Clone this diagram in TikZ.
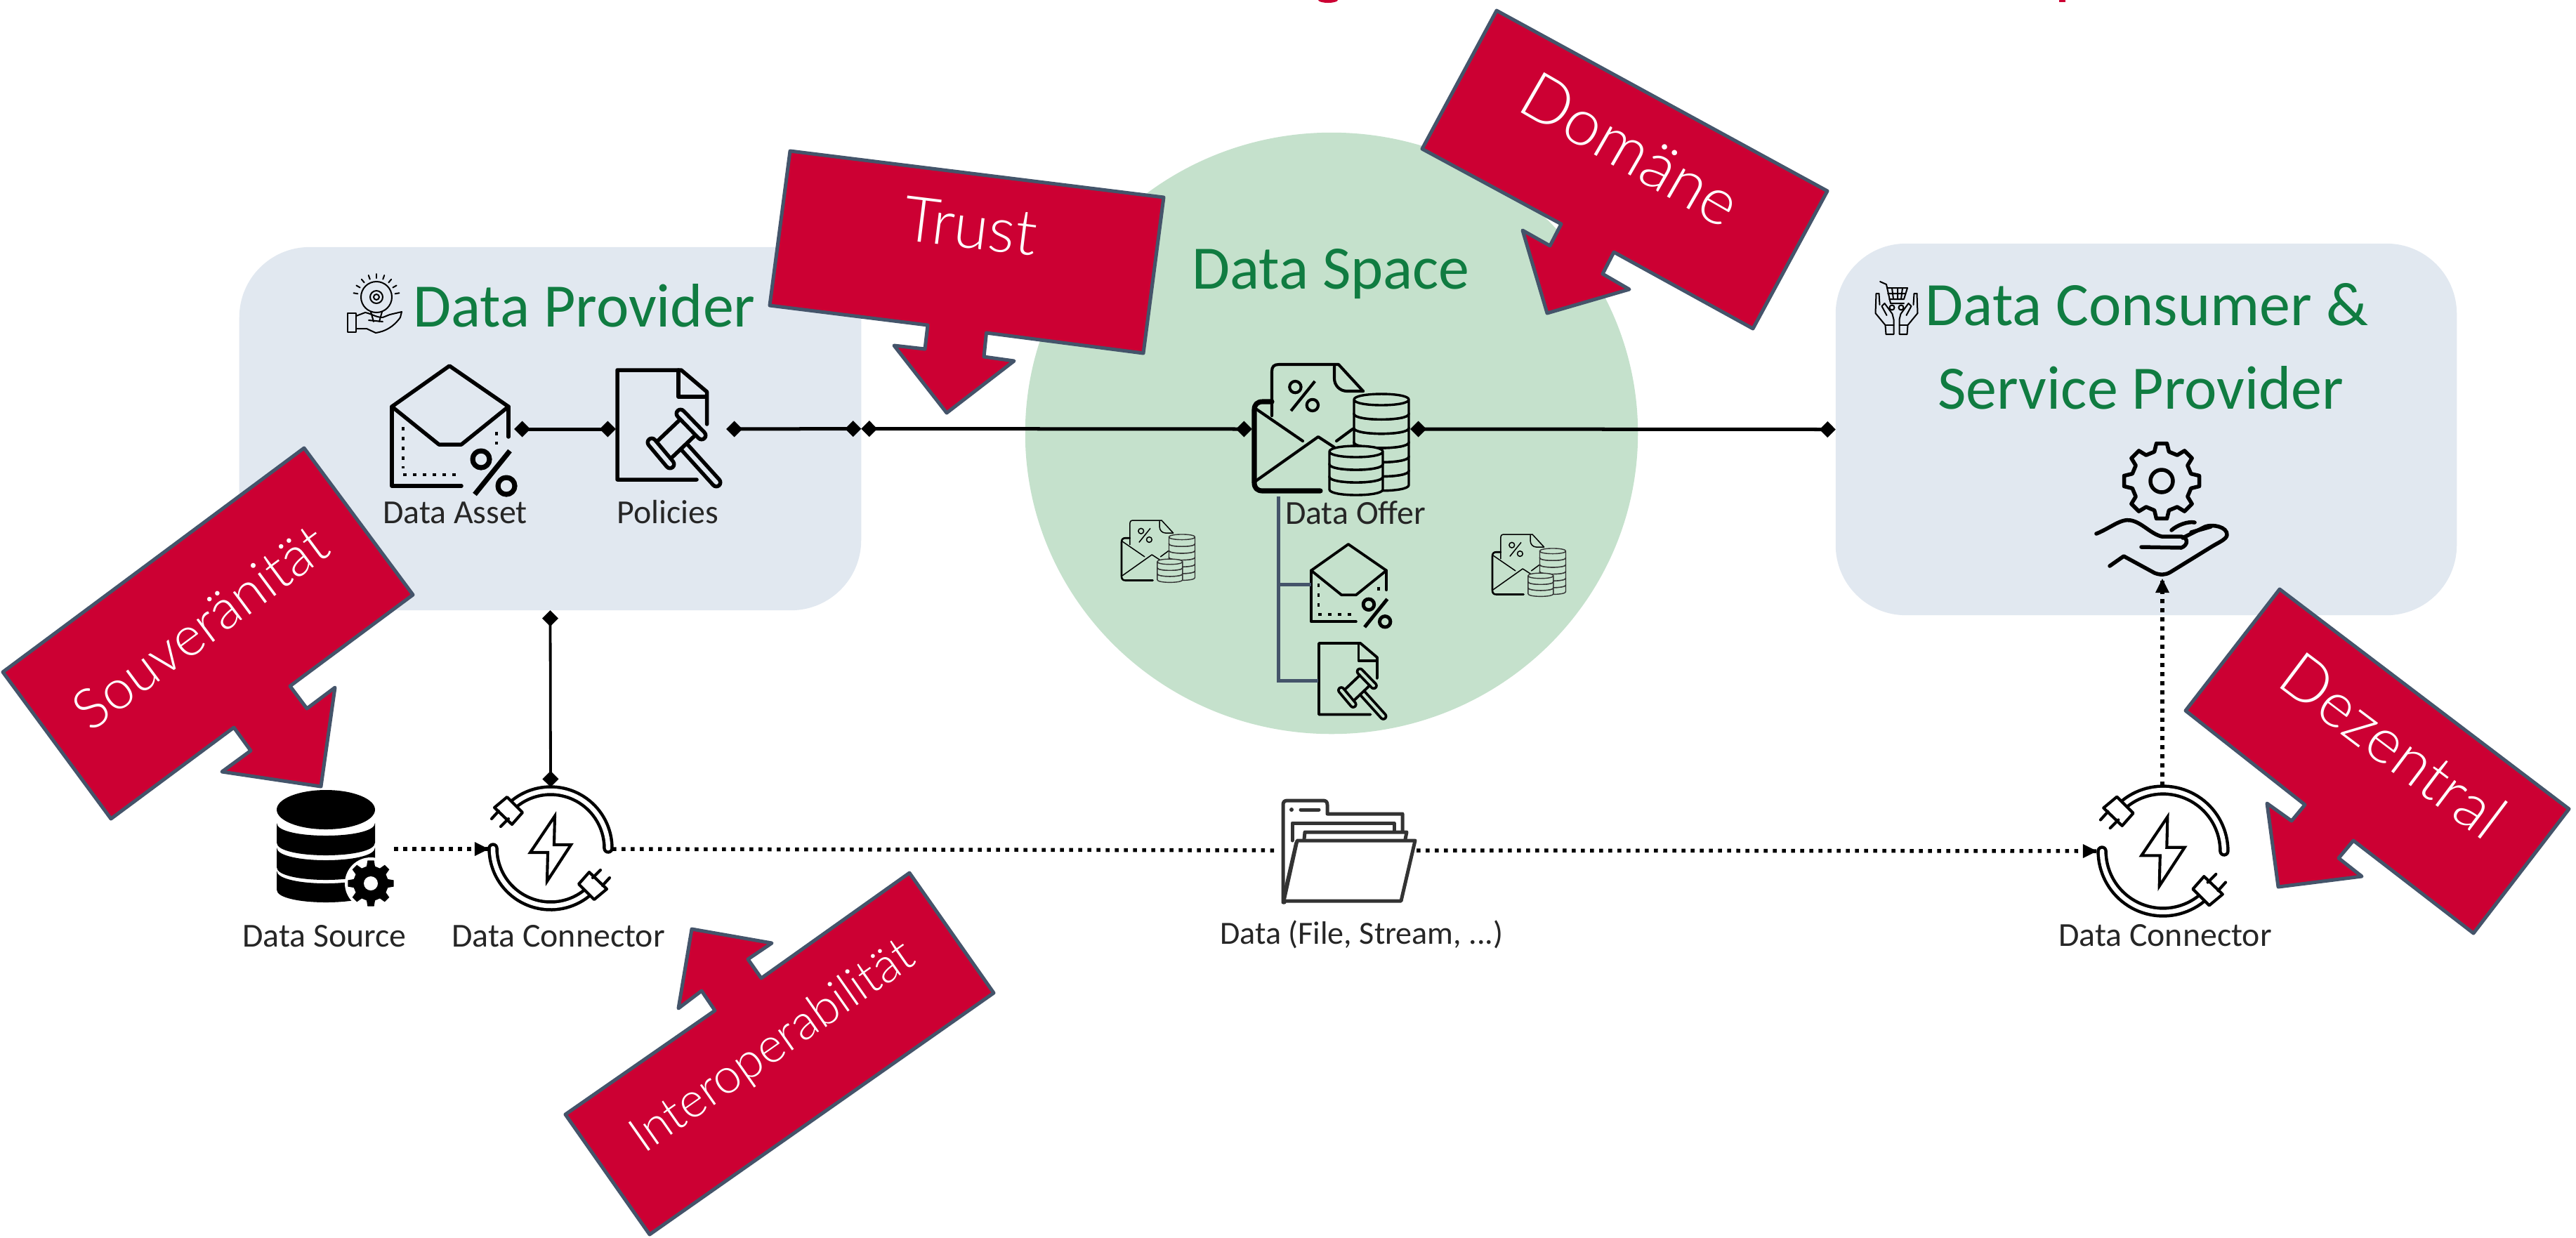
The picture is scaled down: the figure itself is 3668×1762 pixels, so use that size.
\documentclass[tikz,border=0pt]{standalone}
\usepackage{fontspec}
\setmainfont{Carlito}
\newfontfamily\lightf{Lato Light}
\usetikzlibrary{arrows.meta,shapes.geometric}
\definecolor{crimsonred}{HTML}{CC0033}
\definecolor{slateline}{HTML}{44546A}
\definecolor{boxblue}{HTML}{E1E8F0}
\definecolor{spacegreen}{HTML}{C5E1CC}
\definecolor{headgreen}{HTML}{107C41}
\colorlet{ibg}{boxblue}
\newcommand\icolw{0.055cm}
\newcommand\icodd{0.06cm}
\newcommand\coinstack[6]{% cx top n h rx ry
  \foreach \i in {#3,...,1}{%
    \pgfmathsetmacro\ct{#2+(\i-1)*#4}%
    \pgfmathsetmacro\cb{\ct+#4}%
    \pgfmathsetmacro\cl{#1-#5}%
    \pgfmathsetmacro\cr{#1+#5}%
    \pgfmathsetmacro\ctu{\ct-1.33*#6}%
    \pgfmathsetmacro\ctd{\ct+1.33*#6}%
    \pgfmathsetmacro\cbd{\cb+1.33*#6}%
    \draw[coinline] (\cl,\ct) -- (\cl,\cb) .. controls (\cl,\cbd) and (\cr,\cbd) .. (\cr,\cb) -- (\cr,\ct) .. controls (\cr,\ctu) and (\cl,\ctu) .. (\cl,\ct) .. controls (\cl,\ctd) and (\cr,\ctd) .. (\cr,\ct);
  }}
\newcommand\pctmark[3]{% cx,cy ; scale ; stroke factor
  \begin{scope}[shift={#1},scale=#2]
    \draw[ico,line width=#3*\icolw,line cap=butt] (21,-31) -- (-29,31);
    \draw[ico,line width=#3*\icolw] (-20,-19) circle[radius=12];
    \draw[ico,line width=#3*\icolw] (16,19) circle[radius=12];
  \end{scope}}
\newcommand\gearp[2]{(-14:#2) \foreach \k in {0,...,7}{ -- ({\k*45-14}:#2) -- ({\k*45-8}:#1) -- ({\k*45+8}:#1) -- ({\k*45+14}:#2) } -- cycle}
\tikzset{
  ico/.style={line width=\icolw,draw=black,line cap=round,line join=round},
  icothin/.style={ico,line width=0.75*\icolw},
  dotty/.style={line width=0.9*\icolw,draw=black,dash pattern=on 0.05cm off 0.09cm},
  gavelbar/.style={draw=black,line width=\icolw,double=ibg,double distance=\icodd,line cap=round},
  coinline/.style={line width=0.034cm,draw=black,fill=ibg,line join=round},
  tube/.style={draw=black,line width=0.045cm,double=white,double distance=0.065cm,line cap=round},
  redarrow/.style={fill=crimsonred,draw=slateline,line width=0.05cm,line join=round},
  redlabel/.style={text=white,font=\lightf,inner sep=0pt},
  headlabel/.style={text=headgreen,font=\fontsize{25}{25}\selectfont,anchor=base,inner sep=0pt},
  smalllabel/.style={text=black!85,font=\fontsize{13.6}{13.6}\selectfont,anchor=base,inner sep=0pt},
  slot/.style={inner sep=0pt,outer sep=0pt,minimum height=0pt,minimum width=#1},
  squareslot/.style={inner sep=0pt,outer sep=0pt,minimum size=#1},
  softbox/.style={fill=boxblue,rounded corners=1cm,inner sep=0pt,outer sep=0pt},
  solidlink/.style={line width=0.05cm,draw=black,{Diamond[length=0.23cm,width=0.23cm]}-{Diamond[length=0.23cm,width=0.23cm]}},
  dotlink/.style={line width=0.055cm,draw=black,dash pattern=on 0.055cm off 0.075cm},
  treeline/.style={line width=0.05cm,draw=slateline},
  pics/assetico/.style={code={
    \draw[ico] (82,0) -- (166,58) -- (99,112) -- (67,112) -- (0,58) -- cycle;
    \draw[ico] (0,58) -- (0,171) -- (99,171);
    \draw[ico] (166,58) -- (166,101);
    \draw[dotty] (16,87) -- (16,146);
    \draw[dotty] (16,155) -- (96,155);
    \draw[dotty] (149,94) -- (149,112);
    \pctmark{(147,152)}{1}{1.3}
  }},
  pics/policyico/.style={code={
    \draw[ico] (113,156) -- (0,156) -- (0,0) -- (91,0) -- (127.6,31) -- (127.6,77);
    \draw[ico] (87,0) -- (87,38) -- (127,38);
    \draw[gavelbar] (94.5,108.5) -- (141,160);
    \draw[ico,fill=ibg] (94,66) -- (116,88) -- (73,129) -- (51,107) -- cycle;
    \draw[gavelbar] (90,62) -- (120,93);
    \draw[gavelbar] (49,103) -- (75,134);
  }},
  pics/offerico/.style={code={
    \draw[icothin] (25,73) -- (25,10) .. controls (25,3) and (28,0) .. (35,0) -- (120,0) -- (155,38);
    \draw[icothin] (114,3) -- (114,20) .. controls (114,30) and (122,38) .. (132,38) -- (155,38);
    \draw[ico,line width=1.3*\icolw] (25,53) -- (12,53) .. controls (4,53) and (0,57) .. (0,65) -- (0,168) .. controls (0,176) and (4,180) .. (12,180) -- (94,180);
    \draw[icothin] (2,63) -- (69,109);
    \draw[icothin] (2,166) -- (91,103) -- (114,118);
    \draw[icothin] (117,109) -- (140,92);
    \pctmark{(72,45)}{0.68}{0.75}
    \coinstack{181}{50}{6}{20.3}{39}{8}
    \coinstack{145}{124}{3}{18}{38}{8}
  }},
  pics/connectorico/.style={code={
    \draw[tube] plot[domain=0:-132,samples=40] ({82*cos(\x)},{82*sin(\x)});
    \draw[tube] plot[domain=180:48,samples=40] ({82*cos(\x)},{82*sin(\x)});
    \draw[icothin,fill=white] (-62,-73) -- (-80,-58) -- (-55,-34) -- (-40,-51) -- cycle;
    \draw[icothin] (-74,-53) -- (-84,-42);
    \draw[icothin] (-60,-42) -- (-71,-31);
    \draw[icothin,fill=white] (62,73) -- (80,58) -- (55,34) -- (40,51) -- cycle;
    \draw[icothin] (74,53) -- (84,42);
    \draw[icothin] (60,42) -- (71,31);
    \draw[icothin,line join=miter] (6,-46) -- (-29,6) -- (-4,6) -- (-5,47) -- (29,-5) -- (5,-5) -- cycle;
  }}
}
\begin{document}
\begin{tikzpicture}[x=0.01cm,y=-0.01cm]
\useasboundingbox (0,0) rectangle (3668,1762);
\fill[white] (0,0) rectangle (3668,1762);
% clipped heading remnants
\fill[crimsonred] (1891,0) ellipse[x radius=14,y radius=4];
\fill[crimsonred] (2932,0) rectangle (2941,3);

% containers
\node[softbox,minimum width=8.85cm,minimum height=5.17cm] (provider) at (783.5,610.5) {};
\node[softbox,minimum width=8.84cm,minimum height=5.29cm] (consumer) at (3056,611.5) {};
\node[ellipse,fill=spacegreen,inner sep=0pt,outer sep=0pt,minimum width=8.72cm,minimum height=8.56cm] (dataspace) at (1896,617) {};

% headings
\node[headlabel] (lprovider) at (832,465) {Data Provider};
\node[headlabel] (lspace) at (1895,411) {Data Space};
\node[headlabel] (lconsumer) at (3057,463) {Data Consumer \&};
\node[headlabel] (lservice) at (3048,582) {Service Provider};

% provider header icon
\begin{scope}[line width=0.02cm,line cap=round,line join=round]
  \draw (536,423) circle[radius=22];
  \draw (536,423) circle[radius=9];
  \draw (536,423) circle[radius=4];
  \foreach \a in {-170,-150,...,-10}{\draw ({536+27*cos(\a)},{423+27*sin(\a)}) -- ({536+33*cos(\a)},{423+33*sin(\a)});}
  \draw (528,444) -- (532,458) (544,444) -- (540,458);
  \draw (495,446) rectangle (507,473);
  \draw (507,450) -- (520,445) .. controls (530,447) and (535,452) .. (545,452) -- (555,448) -- (572,444) -- (570,452) .. controls (560,466) and (548,472) .. (535,474) -- (522,468) -- (507,468);
  \draw (525,456) -- (545,458);
\end{scope}
% consumer header icon
\begin{scope}[line width=0.02cm,line cap=round,line join=round]
  \draw (2677,401) -- (2686,405) -- (2692,432) -- (2711,432);
  \draw (2687,410) -- (2716,410) -- (2711,426) -- (2690,426);
  \draw (2694,410) -- (2696,426) (2702,410) -- (2702,426) (2709,410) -- (2707,426) (2688,418) -- (2713,418);
  \draw (2694,438) circle[radius=3.5] (2707,438) circle[radius=3.5];
  \foreach \s/\c in {1/2700.5,-1/2700.5}{
    \begin{scope}[shift={(\c,0)},xscale=\s]
      \draw (-29,418) -- (-30,446) -- (-16,463) -- (-15,476) -- (-4,476) -- (-4,455) -- (-6,447) -- (-17,432) -- (-21,436) -- (-14,449);
      \draw (-29,418) -- (-25,418) -- (-24,434);
      \draw (-15,463) -- (-4,463);
    \end{scope}}
\end{scope}

% slots that carry the connector ends
\node[slot=1.74cm] (asset) at (645,611) {};
\node[slot=1.57cm] (policies) at (955.5,611) {};
\node[slot=2.25cm] (offer) at (1895.5,611) {};
\node[slot=1.67cm] (source) at (477.5,1209) {};
\node[squareslot=1.76cm] (connectorA) at (784,1209) {};
\node[squareslot=1.86cm] (connectorB) at (3079,1212) {};
\node[slot=1.99cm] (folder) at (1917.5,1211) {};
\node[inner sep=0pt,outer sep=0pt,minimum width=3cm,minimum height=4.31cm] (service) at (3079,608.5) {};
\node[slot=1.2cm] (assetB) at (1927,832) {};
\node[slot=1cm] (policyB) at (1927.5,969) {};
\coordinate (treetop) at (1820,707);

% icons in the provider box
\pic at (558,521) {assetico};
\pic at (879,527) {policyico};

% icons in the data space
\begin{scope}
  \colorlet{ibg}{spacegreen}
  \pic at (1786,519) {offerico};
  \begin{scope}
    \renewcommand\icolw{0.038cm}\renewcommand\icodd{0.04cm}
    \pic[scale=0.645] at (1867,775) {assetico};
    \pic[scale=0.65] at (1878,916) {policyico};
  \end{scope}
  \begin{scope}
    \renewcommand\icolw{0.02cm}
    \tikzset{coinline/.style={line width=0.014cm,draw=black!80,fill=ibg}}
    \pic[scale=0.475] at (1597,741) {offerico};
    \pic[scale=0.475] at (2125,761) {offerico};
  \end{scope}
\end{scope}

% service hand
\begin{scope}[shift={(3078,685)}]
  \draw[ico] \gearp{54}{43};
  \draw[ico] (0,0) circle[radius=16];
\end{scope}
\draw[ico] (2985,760) .. controls (3005,752) and (3020,738) .. (3034,741) .. controls (3050,744) and (3062,760) .. (3078,764) -- (3106,764) .. controls (3116,766) and (3116,776) .. (3106,780) -- (3049,779);
\draw[ico] (3108,766) -- (3140,750) .. controls (3150,746) and (3172,750) .. (3171,762) .. controls (3170,768) and (3160,772) .. (3150,778) -- (3090,815) .. controls (3083,819) and (3076,819) .. (3068,816) -- (3024,792) -- (3004,806);
\draw[ico] (3092,755) .. controls (3100,748) and (3115,742) .. (3125,744) (3120,758) -- (3148,750);

% data source
\fill[black] (464,1153) ellipse[x radius=70,y radius=28];
\foreach \ya/\yb in {1172/1200,1207/1235,1240/1267}{
  \fill[black] (394,\ya) .. controls (394,\ya+24) and (534,\ya+24) .. (534,\ya) -- (534,\yb) .. controls (534,\yb+24) and (394,\yb+24) .. (394,\yb) -- cycle;
}
\begin{scope}[shift={(528,1258)}]
  \fill[white] (0,0) circle[radius=37];
  \fill[black] \gearp{33}{25};
  \fill[white] (0,0) circle[radius=10];
\end{scope}

% connectors icons
\pic at (784,1208) {connectorico};
\pic[scale=1.06] at (3080,1212) {connectorico};

% folder
\begin{scope}[line width=0.05cm,line join=round,line cap=round]
  \draw[black!80] (1829,1285) -- (1827,1285) -- (1827,1146) .. controls (1827,1142) and (1829,1140) .. (1833,1140) -- (1884,1140) .. controls (1888,1140) and (1890,1142) .. (1890,1146) -- (1890,1159) -- (1997,1159) -- (1997,1183);
  \draw[black!80] (1840,1197) -- (1840,1172) -- (1985,1172) -- (1985,1183);
  \draw[black!80] (1857,1195) -- (1858,1185) -- (2003,1185) -- (2001,1195);
  \draw[black!80,fill=white] (1847,1197) -- (2015,1197) -- (1995,1283) -- (1828,1283) -- cycle;
  \draw[black!80] (1852,1153) -- (1878,1153);
  \fill[black!80] (1839,1153) circle[radius=3];
  \draw[black!80,line width=0.035cm] (1829,1270) -- (1845,1200);
\end{scope}

% connectors
\draw[solidlink] (asset.east) -- (policies.west);
\draw[solidlink] (policies.east) -- (provider.east);
\draw[solidlink] (provider.east) -- (offer.west);
\draw[solidlink] (offer.east) -- (consumer.west);
\draw[solidlink,line width=0.038cm] (provider.south) -- (connectorA.north);
\draw[dotlink] (source.east) -- (connectorA.west);
\fill[black] (connectorA.west) -- ++(-20,-10) -- ++(0,20) -- cycle;
\draw[dotlink] (connectorA.east) -- (folder.west);
\draw[dotlink] (folder.east) -- (connectorB.west);
\fill[black] (connectorB.west) -- ++(-20,-10) -- ++(0,20) -- cycle;
\draw[dotlink] (connectorB.north) -- (service.south);
\fill[black] (service.south) -- ++(-10,20) -- ++(20,0) -- cycle;
\draw[treeline] (treetop) |- (assetB.west);
\draw[treeline] (treetop) |- (policyB.west);

% small labels
\node[smalllabel] (lasset) at (648,745) {Data Asset};
\node[smalllabel] (lpolicies) at (951,745) {Policies};
\node[smalllabel] (loffer) at (1930,746) {Data Offer};
\node[smalllabel] (lsource) at (462,1348) {Data Source};
\node[smalllabel] (lconnA) at (795,1348) {Data Connector};
\node[smalllabel,font=\fontsize{13.1}{13.1}\selectfont] (ldata) at (1939,1344) {Data (File, Stream, ...)};
\node[smalllabel] (lconnB) at (3083,1347) {Data Connector};

% red arrows
\draw[redarrow] (433,638) -- (588,847) -- (413,977) -- (437,1009) -- (477,979) -- (457,1120) -- (316,1099) -- (357,1069) -- (333,1036) -- (158,1166) -- (4,957) -- cycle;
\node[redlabel,rotate=36.6,font=\lightf\fontsize{22.5}{22.5}\selectfont] (lsouv) at (285,893) {Souveränität};
\draw[redarrow] (1295,1243) -- (1415,1414) -- (925,1758) -- (805,1587) -- (1018,1439) -- (999,1411) -- (966,1436) -- (985,1323) -- (1099,1343) -- (1065,1366) -- (1084,1393) -- cycle;
\node[redlabel,rotate=35,font=\lightf\fontsize{19.8}{19.8}\selectfont] (linter) at (1101,1492) {Interoperabilität};
\draw[redarrow] (1125,215) -- (1657,281) -- (1628,503) -- (1404.5,474) -- (1401,508) -- (1444,514) -- (1348,588) -- (1273,492) -- (1317,497) -- (1321,463) -- (1096,435) -- cycle;
\node[redlabel,rotate=-7,font=\lightf\fontsize{25.4}{25.4}\selectfont] (ltrust) at (1382,322) {Trust};
\draw[redarrow] (2131,15) -- (2602,272) -- (2496,468) -- (2298,359) -- (2282,390) -- (2320,412) -- (2203,446) -- (2168,328) -- (2207,350) -- (2223,319) -- (2025,212) -- cycle;
\node[redlabel,rotate=-30,font=\lightf\fontsize{26.5}{26.5}\selectfont] (ldomane) at (2322,213) {Domäne};
\draw[redarrow] (3246,839) -- (3658,1152) -- (3522,1329) -- (3351,1197) -- (3330,1222) -- (3363,1248) -- (3244,1263) -- (3228,1144) -- (3263,1169) -- (3282,1146) -- (3112,1012) -- cycle;
\node[redlabel,rotate=-37,font=\lightf\fontsize{25.5}{25.5}\selectfont] (ldezent) at (3408,1061) {Dezentral};
\end{tikzpicture}
\end{document}
